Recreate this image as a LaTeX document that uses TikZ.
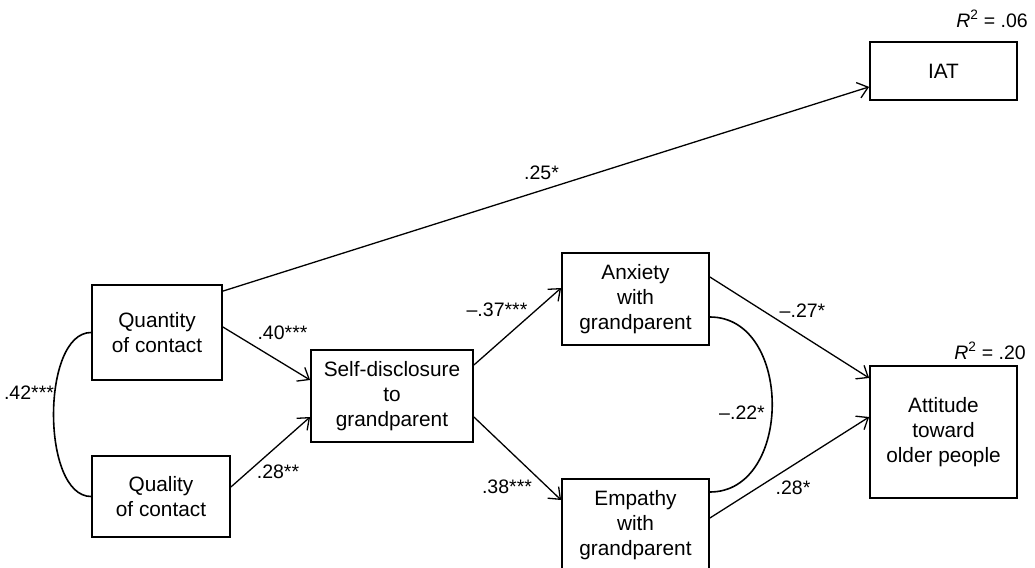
\documentclass[tikz,border=0pt]{standalone}
\usepackage{fontspec}
\setmainfont{Liberation Sans}
\usetikzlibrary{arrows.meta,calc}
\begin{document}
\begin{tikzpicture}[x=1pt,y=-1pt,
  box/.style={draw, line width=1.8pt, inner sep=0pt, align=center, font=\fontsize{20.8}{25}\selectfont},
  lbl/.style={font=\fontsize{19.5}{23}\selectfont, inner sep=0pt},
  conn/.style={line width=1.3pt, -{Straight Barb[length=10pt,width=16pt]}},
  cov/.style={line width=1.6pt}]
\useasboundingbox (0,0) rectangle (1035,567);
\clip (0,0) rectangle (1035,567);
% boxes
\node[box, minimum width=130pt, minimum height=95pt] (quant) at (157,332.5) {Quantity\\of contact};
\node[box, minimum width=138pt, minimum height=81pt] (qual) at (161,496.5) {Quality\\of contact};
\node[box, minimum width=162pt, minimum height=92pt] (self) at (392,396) {Self-disclosure\\to\\grandparent};
\node[box, minimum width=147pt, minimum height=92pt] (anx) at (635.5,299) {Anxiety\\with\\grandparent};
\node[box, minimum width=147pt, minimum height=92pt] (emp) at (635.5,525) {Empathy\\with\\grandparent};
\node[box, minimum width=147pt, minimum height=132pt] (att) at (943.5,432) {Attitude\\toward\\older people};
\node[box, minimum width=147pt, minimum height=58pt] (iat) at (943.5,71) {IAT};
% connectors
\draw[conn] ([yshift=-7pt]quant.north east) -- ([yshift=14pt]iat.south west);
\draw[conn] ([yshift=5.5pt]quant.east) -- ([yshift=16pt]self.west);
\draw[conn] ([yshift=9.5pt]qual.east) -- ([yshift=-21pt]self.west);
\draw[conn] ([yshift=31pt]self.east) -- ([yshift=11pt]anx.west);
\draw[conn] ([yshift=-21pt]self.east) -- ([yshift=25pt]emp.west);
\draw[conn] ([yshift=22pt]anx.east) -- ([yshift=54pt]att.west);
\draw[conn] ([yshift=7pt]emp.east) -- ([yshift=15pt]att.west);
% covariances
\draw[cov] (quant.west) .. controls (41,332.5) and (41,496.5) .. (qual.west);
\draw[cov] ([yshift=-18pt]anx.east) .. controls (793,317) and (793,492) .. ([yshift=33pt]emp.east);
% labels
\node[lbl] (l25) at (541.5,173) {.25*};
\node[lbl] (l40) at (282.5,333) {.40***};
\node[lbl] (l28a) at (278,472) {.28**};
\node[lbl] (l42) at (29,393) {.42***};
\node[lbl] (l37) at (497,310) {–.37***};
\node[lbl] (l38) at (507,487) {.38***};
\node[lbl] (l27) at (802.5,311) {–.27*};
\node[lbl] (l28b) at (793,488) {.28*};
\node[lbl] (l22) at (742,413) {–.22*};
\node[lbl, anchor=east] (r06) at (1028,19) {\textit{R}\textsuperscript{2} = .06};
\node[lbl, anchor=east] (r20) at (1026,351) {\textit{R}\textsuperscript{2} = .20};
\end{tikzpicture}
\end{document}
